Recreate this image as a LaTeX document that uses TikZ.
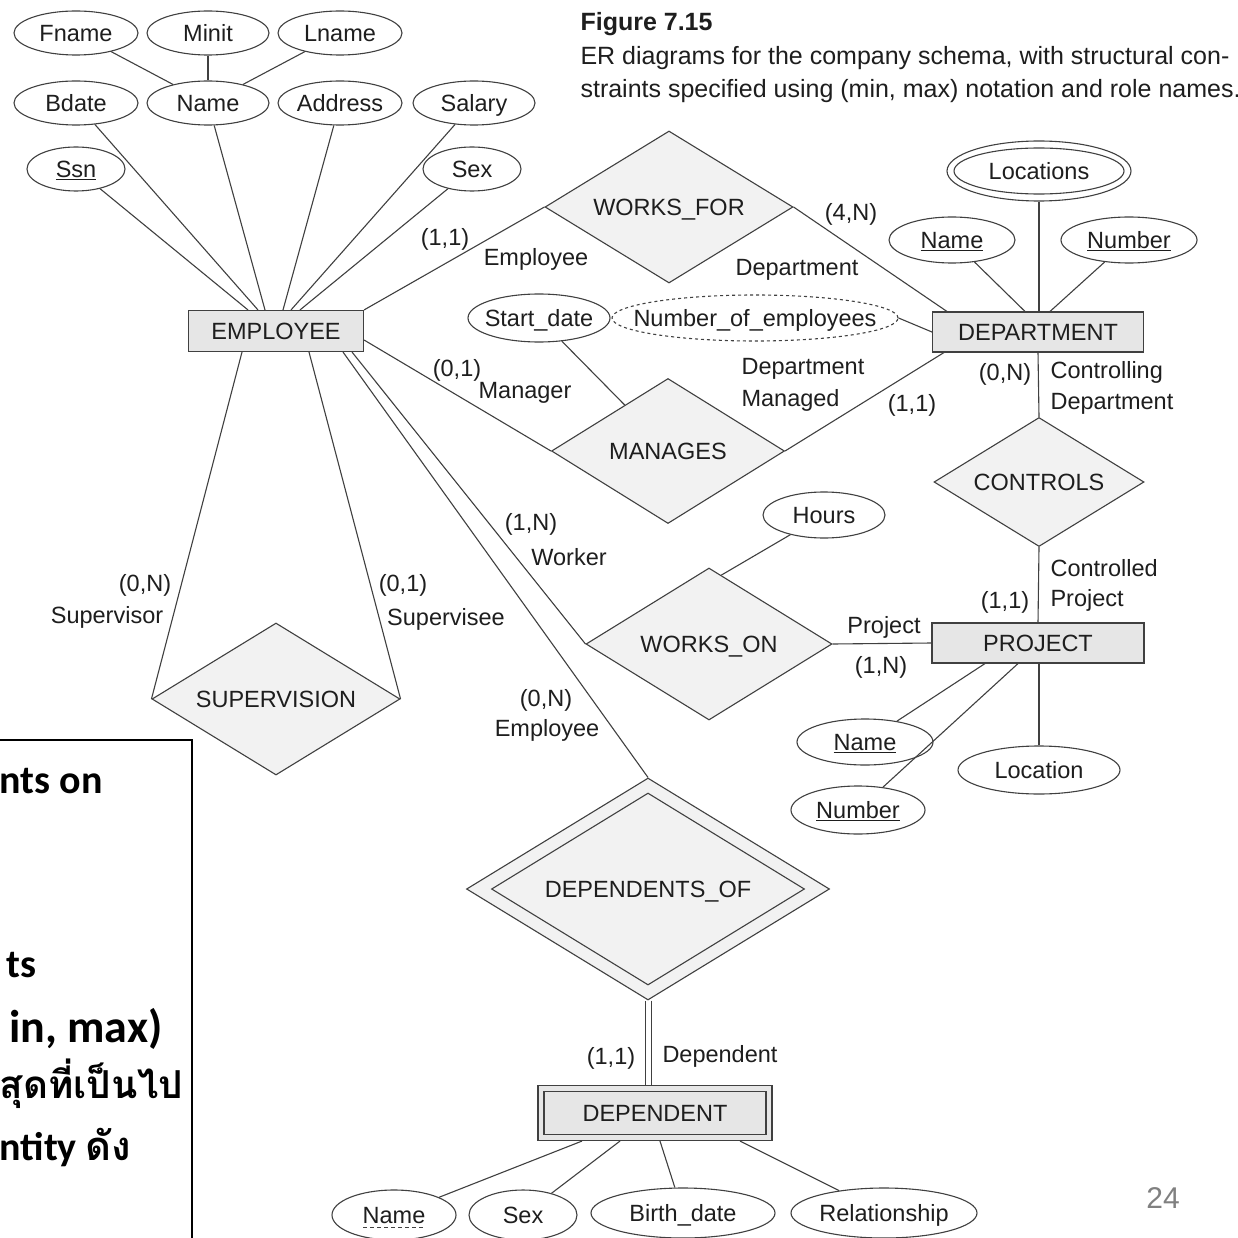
\documentclass[tikz,border=0pt]{standalone}
\usepackage{fontspec}
\setmainfont{Liberation Sans}
\newfontfamily\slidefont{Carlito}
\newfontfamily\thaifont[Script=Thai]{Loma}
\usetikzlibrary{
    shapes.geometric,
    calc,
    positioning
}

\definecolor{linec}{HTML}{404040}
\definecolor{entfill}{HTML}{E6E6E6}
\definecolor{relfill}{HTML}{F2F2F2}
\definecolor{txt}{HTML}{1E1E1E}

\tikzset{
    entity/.style={rectangle, draw=linec, fill=entfill, inner sep=0pt},
    reln/.style={diamond, draw=linec, fill=relfill, shape aspect=1.63, inner sep=0pt},
    attr/.style={ellipse, draw=linec, fill=white, minimum width=124pt, minimum height=44pt, inner sep=0pt},
    role/.style={inner sep=0pt},
    slide/.style={anchor=base east, inner sep=0pt, text=black, font=\fontsize{40}{48}\selectfont\slidefont\bfseries}
}

\begin{document}
\begin{tikzpicture}[x=1pt, y=-1pt, line width=1.1pt, draw=linec,
    every node/.style={font=\fontsize{23.5}{28}\selectfont, text=txt, text height=17pt, text depth=0pt}]
    \useasboundingbox[fill=white] (0,0) rectangle (1238,1238);

    % caption
    \node[anchor=base west, inner sep=0pt, font=\fontsize{25}{30}\selectfont\bfseries] (cap0) at (580,31) {Figure 7.15};
    \node[anchor=base west, inner sep=0pt, font=\fontsize{25}{30}\selectfont] (cap1) at (580,65) {ER diagrams for the company schema, with structural con-};
    \node[anchor=base west, inner sep=0pt, font=\fontsize{25}{30}\selectfont] (cap2) at (580,98) {straints specified using (min, max) notation and role names.};

    % entities
    \node[entity, minimum width=175pt, minimum height=41pt] (emp) at (276,331) {EMPLOYEE};
    \node[entity, minimum width=211pt, minimum height=40pt] (dept) at (1038,332) {DEPARTMENT};
    \node[entity, minimum width=212pt, minimum height=40pt] (proj) at (1038,643) {PROJECT};
    \node[entity, minimum width=234pt, minimum height=55pt] (dep) at (655,1113) {};
    \node[entity, minimum width=222pt, minimum height=43pt] (depin) at (dep) {DEPENDENT};

    % relationships
    \node[reln, minimum width=248pt, minimum height=152pt] (wf) at (669,207) {WORKS\_FOR};
    \node[reln, minimum width=233pt, minimum height=145pt] (mgr) at (668,451) {MANAGES};
    \node[reln, minimum width=246pt, minimum height=152pt] (wo) at (709,644) {WORKS\_ON};
    \node[reln, minimum width=210pt, minimum height=129pt] (ctrl) at (1039,482) {CONTROLS};
    \node[reln, minimum width=248pt, minimum height=152pt] (sup) at (276,699) {SUPERVISION};
    \node[reln, minimum width=363pt, minimum height=222pt] (depof) at (648,889) {};
    \node[reln, minimum width=313pt, minimum height=192pt] (depofin) at (depof) {DEPENDENTS\_OF};

    % employee attributes
    \node[attr, label=center:Fname] (fname) at (76,33) {};
    \node[attr, minimum width=122pt, label=center:Minit] (minit) at (208,33) {};
    \node[attr, label=center:Lname] (lname) at (340,33) {};
    \node[attr, label=center:Bdate] (bdate) at (76,103) {};
    \node[attr, minimum width=122pt, label=center:Name] (ename) at (208,103) {};
    \node[attr, label=center:Address] (addr) at (340,103) {};
    \node[attr, minimum width=122pt, label=center:Salary] (salary) at (474,103) {};
    \node[attr, minimum width=98pt, label=center:\underline{Ssn}] (ssn) at (76,169) {};
    \node[attr, minimum width=98pt, label=center:Sex] (esex) at (472,169) {};

    % department attributes
    \node[attr, minimum width=184pt, minimum height=60pt] (loc) at (1039,171) {};
    \node[attr, minimum width=170pt, minimum height=46pt, label=center:Locations] (locin) at (loc) {};
    \node[attr, minimum width=126pt, minimum height=46pt, label=center:\underline{Name}] (dname) at (952,240) {};
    \node[attr, minimum width=136pt, minimum height=46pt, label=center:\underline{Number}] (dnum) at (1129,240) {};
    \node[attr, dashed, minimum width=286pt, minimum height=46pt, label=center:Number\_of\_employees] (nemp) at (755,318) {};
    \node[attr, minimum width=142pt, minimum height=48pt, label=center:Start\_date] (sdate) at (539,318) {};

    % project attributes
    \node[attr, minimum width=122pt, minimum height=46pt, label=center:Hours] (hours) at (824,515) {};
    \node[attr, minimum width=136pt, minimum height=46pt, label=center:\underline{Name}] (pname) at (865,742) {};
    \node[attr, minimum width=162pt, minimum height=48pt, label=center:Location] (ploc) at (1039,770) {};
    \node[attr, minimum width=134pt, minimum height=48pt, label=center:\underline{Number}] (pnum) at (858,810) {};

    % dependent attributes
    \node[attr, minimum width=124pt, minimum height=50pt, label=center:Name] (dpname) at (394,1215) {};
    \draw[dashed, line width=1pt, dash pattern=on 4pt off 3pt] ([xshift=-31pt,yshift=-12pt]dpname.center) -- ([xshift=31pt,yshift=-12pt]dpname.center);
    \node[attr, minimum width=108pt, minimum height=50pt, label=center:Sex] (dpsex) at (523,1215) {};
    \node[attr, minimum width=184pt, minimum height=50pt, label=center:Birth\_date] (bdt) at (683,1213) {};
    \node[attr, minimum width=186pt, minimum height=50pt, label=center:Relationship] (rel) at (884,1213) {};

    % attribute lines
    \draw (fname) -- (ename);
    \draw (minit) -- (ename);
    \draw (lname) -- (ename);
    \draw (ssn) -- ([xshift=-28pt]emp.north);
    \draw (bdate) -- ([xshift=-18pt]emp.north);
    \draw (ename) -- ([xshift=-11pt]emp.north);
    \draw (addr) -- ([xshift=7pt]emp.north);
    \draw (salary) -- ([xshift=15pt]emp.north);
    \draw (esex) -- ([xshift=24pt]emp.north);
    \draw (loc) -- (loc |- dept.north);
    \draw (dname) -- ([xshift=-13pt]dept.north);
    \draw (dnum) -- ([xshift=12pt]dept.north);
    \draw (nemp.east) -- (dept.west);
    \draw (sdate) -- ($(mgr.west)!0.63!(mgr.north)$);
    \draw (hours) -- ($(wo.north)!0.1!(wo.east)$);
    \draw (pname) -- ([xshift=-53pt]proj.south);
    \draw (pnum) -- ([xshift=-20pt]proj.south);
    \draw (ploc) -- (ploc |- proj.south);
    \draw (dpname) -- ([xshift=-73pt]dep.south);
    \draw (dpsex) -- ([xshift=-35pt]dep.south);
    \draw (bdt) -- ([xshift=5pt]dep.south);
    \draw (rel) -- ([xshift=85pt]dep.south);

    % relationship lines
    \draw (emp.north east) -- (wf.west);
    \draw (wf.east) -- ([xshift=15pt]dept.north west);
    \draw ([yshift=-9pt]emp.east) -- (mgr.west);
    \draw (mgr.east) -- ([xshift=12pt]dept.south west);
    \draw (dept.south) -- (ctrl.north);
    \draw (ctrl.south) -- (proj.north);
    \draw (wo.east) -- (proj.west);
    \draw ([xshift=76pt]emp.south) -- (wo.west);
    \draw ([xshift=67pt]emp.south) -- (depof.north);
    \draw ([xshift=-34pt]emp.south) -- (sup.west);
    \draw ([xshift=33pt]emp.south) -- (sup.east);
    \draw[double=white, double distance=5pt, line width=1pt] (depof.south) -- (depof.south |- dep.north);

    % roles and (min,max)
    \node[role] (c1) at (445,237) {(1,1)};
    \node[role] (r1) at (536,257) {Employee};
    \node[role] (c2) at (851,212) {(4,N)};
    \node[role] (r2) at (797,267) {Department};
    \node[role] (c3) at (457,368) {(0,1)};
    \node[role] (r3) at (525,390) {Manager};
    \node[role, anchor=west] (r4) at (741,366) {Department};
    \node[role, anchor=west] (r5) at (741,398) {Managed};
    \node[role] (c4) at (912,403) {(1,1)};
    \node[role] (c5) at (1005,372) {(0,N)};
    \node[role, anchor=west] (r6) at (1050,370) {Controlling};
    \node[role, anchor=west] (r7) at (1050,401) {Department};
    \node[role, anchor=west] (r8) at (1050,568) {Controlled};
    \node[role] (c6) at (1005,600) {(1,1)};
    \node[role, anchor=west] (r9) at (1050,598) {Project};
    \node[role] (r10) at (884,625) {Project};
    \node[role] (c7) at (881,665) {(1,N)};
    \node[role] (c8) at (531,522) {(1,N)};
    \node[role] (r11) at (569,557) {Worker};
    \node[role] (c9) at (145,583) {(0,N)};
    \node[role] (r12) at (107,615) {Supervisor};
    \node[role] (c10) at (403,583) {(0,1)};
    \node[role] (r13) at (446,617) {Supervisee};
    \node[role] (c11) at (546,698) {(0,N)};
    \node[role] (r14) at (547,728) {Employee};
    \node[role] (c12) at (611,1056) {(1,1)};
    \node[role] (r15) at (720,1054) {Dependent};

    % page number
    \node[text=gray, font=\fontsize{30}{36}\selectfont] (pageno) at (1163,1200) {24};

    % slide box
    \fill[white] (-5,740) rectangle (192,1245);
    \draw[black, line width=2pt] (-5,740) -- (192,740) -- (192,1245);
    \node[slide] (s1) at (103,793) {nts on};
    \node[slide] (s2) at (37,977) {ts};
    \node[slide, font=\fontsize{46}{54}\selectfont\slidefont\bfseries] (s3) at (163,1042) {in, max)};
    \node[slide, font=\fontsize{38.5}{46}\selectfont\thaifont\bfseries] (s4) at (184,1098) {สุดที่เป็นไป};
    \node[slide] (s5) at (132,1160) {ntity {\thaifont ดัง}};
\end{tikzpicture}
\end{document}
